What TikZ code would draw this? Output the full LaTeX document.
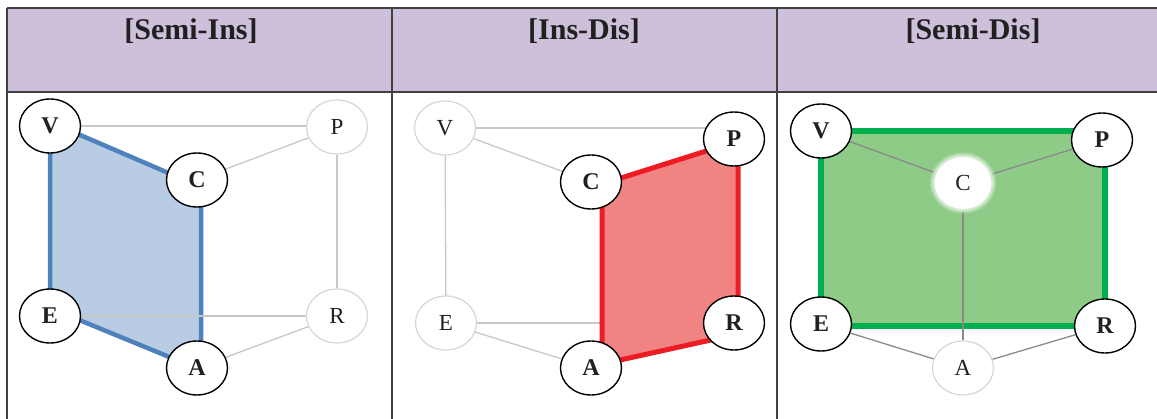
\documentclass[tikz,border=0pt]{standalone}
\usepackage{fontspec}
\setmainfont{Liberation Serif}
\usetikzlibrary{shapes.geometric}
\definecolor{hdr}{HTML}{CCC0DA}
\definecolor{rule}{HTML}{404040}
\definecolor{txt}{HTML}{231F20}
\definecolor{lgray}{HTML}{C8C8C8}
\definecolor{ngray}{HTML}{D6D6D6}
\definecolor{dgray}{HTML}{8A8A8A}
\definecolor{blueline}{HTML}{4F81BD}
\definecolor{bluefill}{HTML}{B8CCE4}
\definecolor{redline}{HTML}{ED1C24}
\definecolor{redfill}{HTML}{F08482}
\definecolor{greenline}{HTML}{00B050}
\definecolor{greenfill}{HTML}{8DCB86}
\pgfdeclarelayer{bg}
\pgfsetlayers{bg,main}
\tikzset{
  vnode/.style={ellipse,fill=white,minimum width=61pt,minimum height=54pt,inner sep=0pt,text=txt},
  blk/.style={vnode,draw=black,line width=1.4pt,font=\fontsize{24}{24}\selectfont\bfseries},
  gry/.style={vnode,draw=ngray,line width=1.2pt,font=\fontsize{23}{23}\selectfont},
  glow/.style={vnode,draw=none,font=\fontsize{23}{23}\selectfont},
  glowring/.style={vnode,draw=none,fill=white},
  hdrtext/.style={font=\fontsize{30}{30}\selectfont\bfseries,text=txt,inner sep=0pt},
  tablerule/.style={draw=rule,line width=1.1pt},
  faint/.style={draw=lgray,line width=1.3pt},
  mid/.style={draw=dgray,line width=1.3pt},
  bluepoly/.style={draw=blueline,fill=bluefill,line width=4.5pt,line join=miter},
  redpoly/.style={draw=redline,fill=redfill,line width=5pt,line join=miter},
  greenpoly/.style={draw=greenline,fill=greenfill,line width=5.5pt,line join=miter}
}
\begin{document}
\begin{tikzpicture}[x=1pt,y=-1pt]
\useasboundingbox (0,0) rectangle (1157,419);
% table
\fill[hdr] (7,8) rectangle (1157,92);
\draw[tablerule] (7,8) -- (1157,8);
\draw[tablerule] (7,92) -- (1157,92);
\draw[tablerule] (7,8) -- (7,419);
\draw[tablerule] (392,8) -- (392,419);
\draw[tablerule] (777,8) -- (777,419);
\node[hdrtext] (h1) at (191,31) {[Semi-Ins]};
\node[hdrtext] (h2) at (584,31) {[Ins-Dis]};
\node[hdrtext] (h3) at (973,31) {[Semi-Dis]};

% ---------- panel 1 ----------
\node[blk] (V1) at (50,126) {V};
\node[blk] (C1) at (197,180) {C};
\node[gry] (P1) at (337,127) {P};
\node[blk] (E1) at (50,316) {E};
\node[gry] (R1) at (337,316) {R};
\node[blk] (A1) at (197,368) {A};
\begin{pgfonlayer}{bg}
  \draw[bluepoly] ([shift={(0,-4)}]V1.center) -- ([shift={(4,7)}]C1.center)
     -- ([shift={(4,2)}]A1.center) -- ([shift={(0,-8)}]E1.center) -- cycle;
  \draw[faint] (V1) -- (V1 -| P1);
  \draw[faint] (C1) -- (P1);
  \draw[faint] (P1) -- (R1);
  \draw[faint] (E1) -- (R1);
  \draw[faint] (A1) -- (R1);
\end{pgfonlayer}

% ---------- panel 2 ----------
\node[gry] (V2) at (445,128) {V};
\node[blk] (C2) at (591,182) {C};
\node[blk] (P2) at (734,139) {P};
\node[gry] (E2) at (446,323) {E};
\node[blk] (R2) at (734,323) {R};
\node[blk] (A2) at (591,368) {A};
\begin{pgfonlayer}{bg}
  \draw[faint] (V2) -- (V2 -| P2);
  \draw[faint] (V2) -- (C2);
  \draw[faint] (V2) -- (E2);
  \draw[faint] (E2) -- (E2 -| R2);
  \draw[faint] (E2) -- (A2);
  \draw[redpoly] ([shift={(11,2)}]C2.center) -- ([shift={(4,2)}]P2.center)
     -- ([shift={(4,11)}]R2.center) -- ([shift={(11,-4)}]A2.center) -- cycle;
\end{pgfonlayer}

% ---------- panel 3 ----------
\node[blk] (V3) at (821,131) {V};
\node[blk] (P3) at (1102,140) {P};
\node[blk] (E3) at (821,324) {E};
\node[blk] (R3) at (1105,326) {R};
\node[gry] (A3) at (963,368) {A};
\node[glowring,fill opacity=0.25,minimum width=66pt,minimum height=61pt] (C3r) at (963,183) {};
\node[glowring,fill opacity=0.45,minimum width=62pt,minimum height=57pt] (C3g) at (963,183) {};
\node[glow,minimum width=57pt,minimum height=52pt] (C3) at (963,183) {C};
\begin{pgfonlayer}{bg}
  \draw[greenpoly] (V3.center) rectangle (R3.center);
  \draw[mid] (V3) -- (C3g);
  \draw[mid] (C3g) -- (P3);
  \draw[mid] (C3g) -- (A3);
  \draw[mid] (E3) -- (A3);
  \draw[mid] (A3) -- (R3);
\end{pgfonlayer}
\end{tikzpicture}
\end{document}
